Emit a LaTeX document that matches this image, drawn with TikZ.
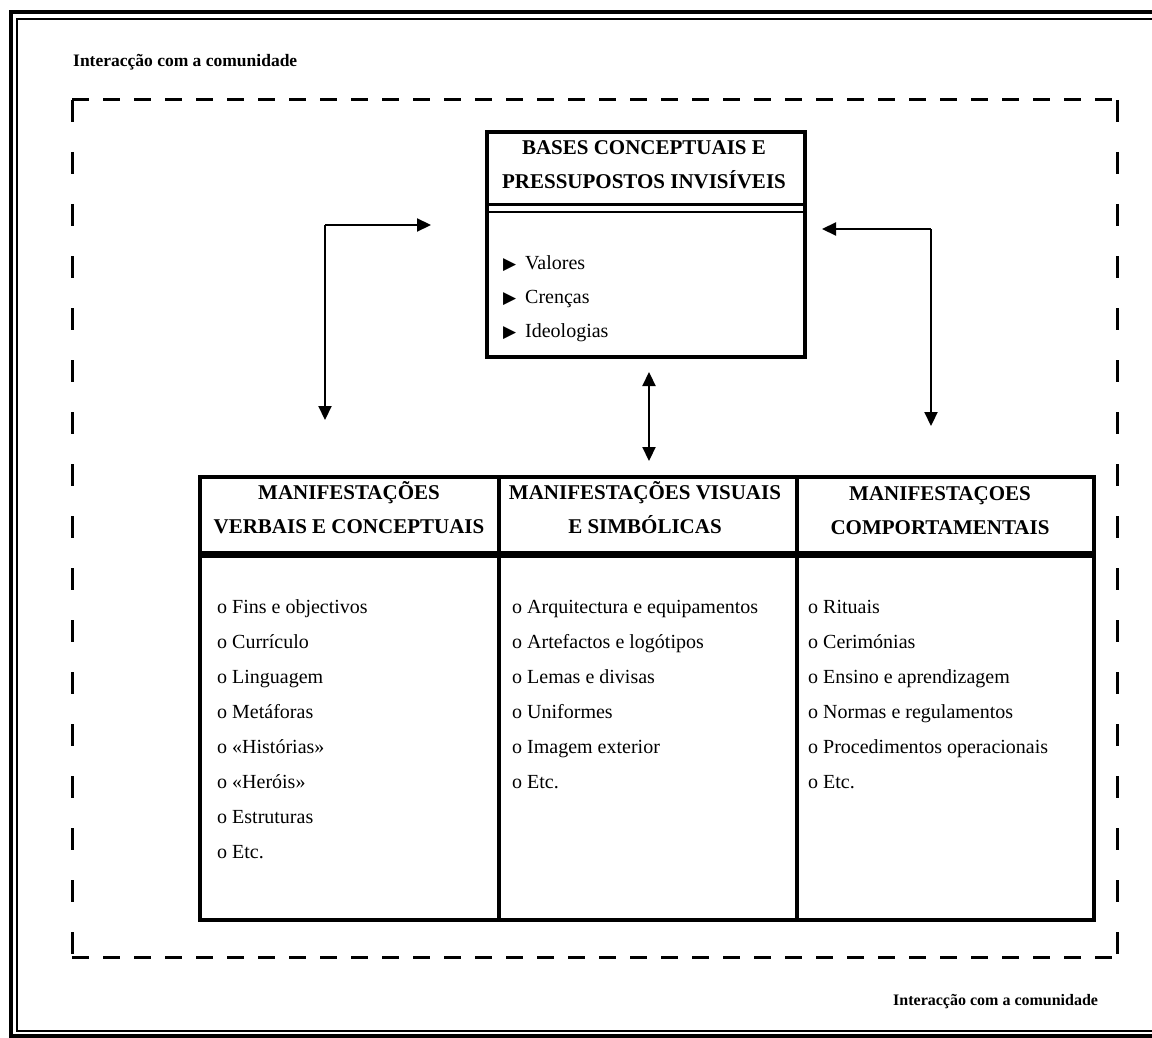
\documentclass[tikz,border=0pt]{standalone}
\usepackage{fontspec}
\setmainfont{Liberation Serif}
\newfontfamily\symfont{DejaVu Sans}
\usetikzlibrary{arrows.meta}
\newcommand\bitem[1]{\makebox[15pt][l]{o}#1}
\newcommand\tri{{\symfont\fontsize{17}{17}\selectfont ▶}}
\begin{document}
\begin{tikzpicture}[x=1pt,y=-1pt,
  boxline/.style={line width=4pt},
  hdr/.style={font=\fontsize{21}{34}\selectfont\bfseries, align=center, inner sep=0},
  item/.style={font=\fontsize{20}{22}\selectfont, anchor=base west, inner sep=0},
  community/.style={font=\fontsize{16}{19}\selectfont\bfseries, anchor=base west, inner sep=0},
  link/.style={line width=2.2pt, -{Triangle[length=14pt,width=13pt]}},
  biglink/.style={line width=2.2pt, {Triangle[length=14pt,width=13pt]}-{Triangle[length=14pt,width=13pt]}},
  hdash/.style={line width=3pt, dash pattern=on 17pt off 14pt},
  vdash/.style={line width=3pt, dash pattern=on 22pt off 30pt},
]
\useasboundingbox (0,0) rectangle (1152,1038);

% page frame (double rule)
\draw[line width=3.5pt] (11,12) rectangle (1175,1036);
\draw[line width=2pt] (17,19) rectangle (1175,1031);

% community labels
\node[community, font=\fontsize{17.5}{20}\selectfont\bfseries] (ctop) at (73,67) {Interacção com a comunidade};
\node[community] (cbot) at (893,1005) {Interacção com a comunidade};

% dashed boundary
\draw[hdash] (72,100) -- (1117,100);
\draw[hdash] (72,957) -- (1117,957);
\draw[vdash] (72,100) -- (72,957);
\draw[vdash] (1117,100) -- (1117,957);

% central box: invisible foundations
\node[draw, boxline, minimum width=318pt, minimum height=225pt, anchor=north west, inner sep=0] (base) at (485,130) {};
\draw[line width=3pt] (485,205) -- (803,205);
\draw[line width=1.5pt] (485,212) -- (803,212);
\node[hdr] (basehdr) at (644,165) {BASES CONCEPTUAIS E\\PRESSUPOSTOS INVISÍVEIS};
\node[item] (v1) at (503,269) {\makebox[22pt][l]{\tri}Valores};
\node[item] (v2) at (503,303) {\makebox[22pt][l]{\tri}Crenças};
\node[item] (v3) at (503,337) {\makebox[22pt][l]{\tri}Ideologias};

% three manifestation columns
\node[draw, boxline, minimum width=299pt, minimum height=76pt, anchor=north west, inner sep=0] (h1) at (198,475) {};
\node[draw, boxline, minimum width=298pt, minimum height=76pt, anchor=north west, inner sep=0] (h2) at (497,475) {};
\node[draw, boxline, minimum width=297pt, minimum height=76pt, anchor=north west, inner sep=0] (h3) at (795,475) {};
\node[draw, boxline, minimum width=299pt, minimum height=364pt, anchor=north west, inner sep=0] (b1) at (198,554) {};
\node[draw, boxline, minimum width=298pt, minimum height=364pt, anchor=north west, inner sep=0] (b2) at (497,554) {};
\node[draw, boxline, minimum width=297pt, minimum height=364pt, anchor=north west, inner sep=0] (b3) at (795,554) {};

\node[hdr] (t1) at (349,508) {MANIFESTAÇÕES\\VERBAIS E CONCEPTUAIS};
\node[hdr] (t2) at (645,508) {MANIFESTAÇÕES VISUAIS\\E SIMBÓLICAS};
\node[hdr] (t3) at (940,511) {MANIFESTAÇOES\\COMPORTAMENTAIS};

% column 1
\node[item] (a1) at (217,613) {\bitem{Fins e objectivos}};
\node[item] (a2) at (217,648) {\bitem{Currículo}};
\node[item] (a3) at (217,683) {\bitem{Linguagem}};
\node[item] (a4) at (217,718) {\bitem{Metáforas}};
\node[item] (a5) at (217,753) {\bitem{«Histórias»}};
\node[item] (a6) at (217,788) {\bitem{«Heróis»}};
\node[item] (a7) at (217,823) {\bitem{Estruturas}};
\node[item] (a8) at (217,858) {\bitem{Etc.}};

% column 2
\node[item] (m1) at (512,613) {\bitem{Arquitectura e equipamentos}};
\node[item] (m2) at (512,648) {\bitem{Artefactos e logótipos}};
\node[item] (m3) at (512,683) {\bitem{Lemas e divisas}};
\node[item] (m4) at (512,718) {\bitem{Uniformes}};
\node[item] (m5) at (512,753) {\bitem{Imagem exterior}};
\node[item] (m6) at (512,788) {\bitem{Etc.}};

% column 3
\node[item] (c1) at (808,613) {\bitem{Rituais}};
\node[item] (c2) at (808,648) {\bitem{Cerimónias}};
\node[item] (c3) at (808,683) {\bitem{Ensino e aprendizagem}};
\node[item] (c4) at (808,718) {\bitem{Normas e regulamentos}};
\node[item] (c5) at (808,753) {\bitem{Procedimentos operacionais}};
\node[item] (c6) at (808,788) {\bitem{Etc.}};

% connectors
\coordinate (lcorner) at (325,225);
\coordinate (ltip) at (431,225);
\coordinate (ldown) at (325,420);
\draw[link] (lcorner) -- (ltip);
\draw[link] (lcorner) -- (ldown);

\coordinate (rcorner) at (931,229);
\coordinate (rtip) at (822,229);
\coordinate (rdown) at (931,426);
\draw[link] (rcorner) -- (rtip);
\draw[link] (rcorner) -- (rdown);

\coordinate (midtop) at (649,372);
\coordinate (midbot) at (649,461);
\draw[biglink] (midtop) -- (midbot);
\end{tikzpicture}
\end{document}
